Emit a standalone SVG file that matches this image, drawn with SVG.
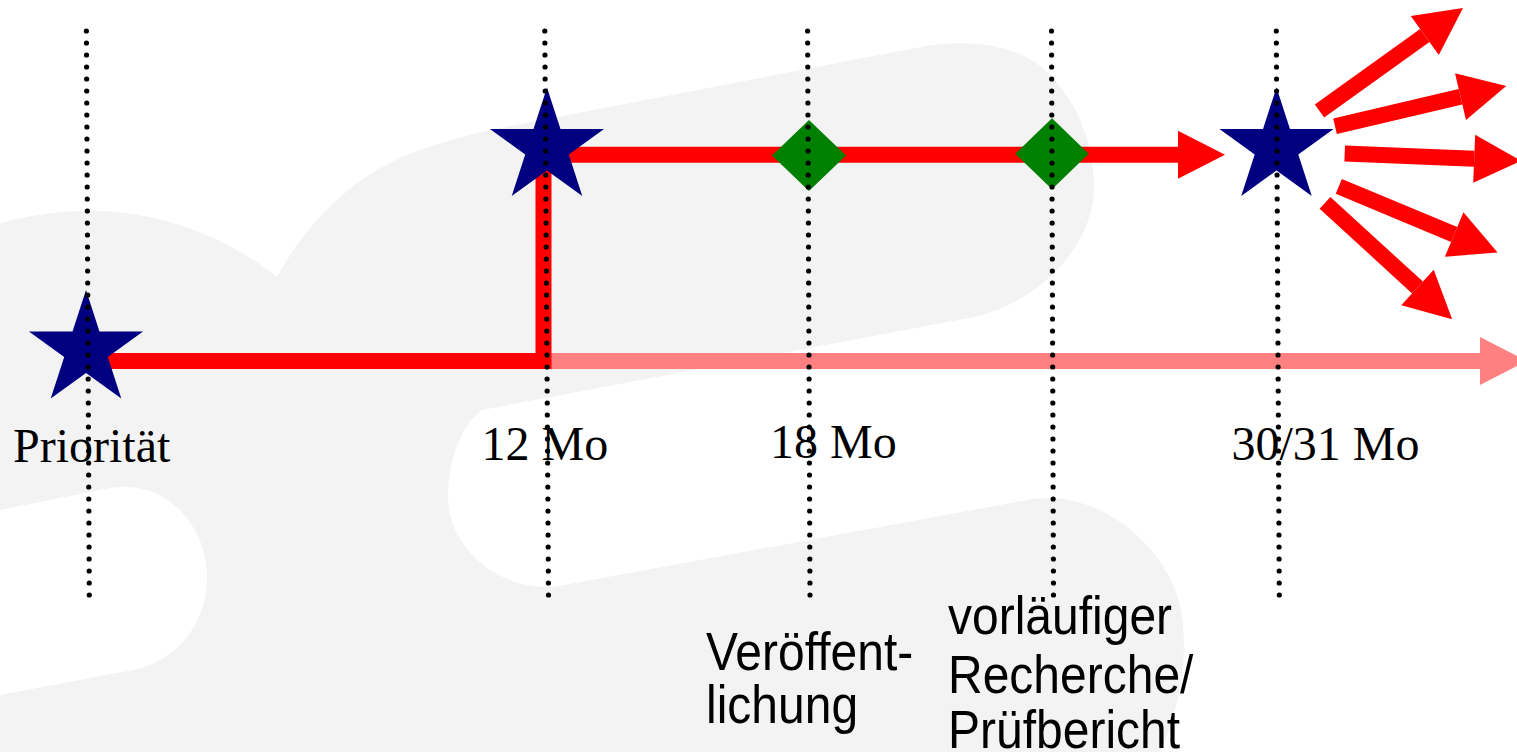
<svg xmlns="http://www.w3.org/2000/svg" width="1517" height="752" viewBox="0 0 1517 752">
  <style>
    .bg { fill: #f3f3f3; }
    .cut { fill: #ffffff; }
    .guide { stroke: #000; stroke-width: 5.2; stroke-dasharray: 0 12; stroke-linecap: round; fill: none; }
    .red { stroke: #ff0000; stroke-width: 16; fill: none; stroke-linejoin: miter; }
    .pink { stroke: #ff8080; stroke-width: 16; fill: none; }
    .star { fill: #000080; }
    .milestone { fill: #008000; }
    .serif { font-family: "Liberation Serif", "Times New Roman", serif; font-size: 48px; fill: #000; }
    .sans { font-family: "Liberation Sans", Arial, sans-serif; font-size: 48px; fill: #000; }
  </style>
  <defs>
    <polygon id="star-shape" points="0,-60 13.47,-18.54 57.06,-18.54 21.8,7.08 35.27,48.54 0,22.92 -35.27,48.54 -21.8,7.08 -57.06,-18.54 -13.47,-18.54"/>
    <marker id="head-red" markerUnits="userSpaceOnUse" markerWidth="47" markerHeight="48" viewBox="0 0 47 48" refX="0" refY="24" orient="auto" overflow="visible">
      <path d="M0,0 L47,24 L0,48 Z" fill="#ff0000"/>
    </marker>
    <marker id="head-pink" markerUnits="userSpaceOnUse" markerWidth="47" markerHeight="48" viewBox="0 0 47 48" refX="0" refY="24" orient="auto" overflow="visible">
      <path d="M0,0 L47,24 L0,48 Z" fill="#ff8080"/>
    </marker>
  </defs>

  <!-- background logo pattern -->
  <g id="backdrop">
    <rect class="bg" x="0" y="0" width="1517" height="752"/>
    <path class="cut" d="M0,0 V223 C35,214 70,210 100,211 C170,214 230,240 277,277 C300,235 340,185 400,158 C430,145 465,135 500,128 L926,46 C960,40 1010,42 1040,66 C1075,95 1094,140 1094,187 C1094,245 1040,302 974,317 L482,410 C460,425 448,465 448,497 C448,545 495,590 553,587 L1033,499 C1100,490 1165,545 1180,605 C1190,650 1180,710 1160,752 H1517 V0 Z"/>
    <path class="cut" d="M0,510 L110,488 C165,478 207,525 207,577 C207,625 175,662 133,670 L0,695 Z"/>
  </g>

  <!-- timelines and arrows -->
  <g id="connectors">
    <line class="pink" x1="551" y1="361" x2="1480" y2="361" marker-end="url(#head-pink)"/>
    <path class="red" d="M86,361 H543.5 V148"/>
    <line class="red" x1="547" y1="154.7" x2="1178" y2="154.7" marker-end="url(#head-red)"/>
    <line class="red" x1="1319.5" y1="111" x2="1424.8" y2="35.5" marker-end="url(#head-red)"/>
    <line class="red" x1="1335" y1="126.2" x2="1460.5" y2="96.7" marker-end="url(#head-red)"/>
    <line class="red" x1="1344.7" y1="153.5" x2="1474.2" y2="158.8" marker-end="url(#head-red)"/>
    <line class="red" x1="1338.8" y1="186.3" x2="1454.2" y2="234.5" marker-end="url(#head-red)"/>
    <line class="red" x1="1325" y1="202.8" x2="1417.5" y2="287.5" marker-end="url(#head-red)"/>
  </g>

  <g id="star-priority"><use href="#star-shape" class="star" x="86" y="350"/></g>
  <g id="star-12mo"><use href="#star-shape" class="star" x="547" y="147.5"/></g>
  <g id="star-30mo"><use href="#star-shape" class="star" x="1276.5" y="147.5"/></g>

  <g id="diamond-publication"><polygon class="milestone" points="809,120 846,155.5 809,191 772,155.5"/></g>
  <g id="diamond-report"><polygon class="milestone" points="1052,118.3 1088.7,153.8 1052,189.3 1015.3,153.8"/></g>

  <!-- labels -->
  <g id="label-priority"><text class="serif" x="13" y="462">Priorität</text></g>
  <g id="label-12mo"><text class="serif" x="481.5" y="460">12 Mo</text></g>
  <g id="label-18mo"><text class="serif" x="770" y="457.5">18 Mo</text></g>
  <g id="label-30mo"><text class="serif" x="1231.5" y="460">30/31 Mo</text></g>
  <g id="label-publication">
    <text class="sans" transform="translate(706,670) scale(1,1.12)">Veröffent-</text>
    <text class="sans" transform="translate(706,723) scale(1,1.12)">lichung</text>
  </g>
  <g id="label-report">
    <text class="sans" transform="translate(948,634) scale(1,1.12)">vorläufiger</text>
    <text class="sans" transform="translate(948,693) scale(1,1.12)">Recherche/</text>
    <text class="sans" transform="translate(948,748) scale(1,1.12)">Prüfbericht</text>
  </g>

  <!-- dotted time markers -->
  <g id="guides">
    <line class="guide" x1="86.4" y1="31" x2="89.3" y2="595"/>
    <line class="guide" x1="544.8" y1="31" x2="548.5" y2="595"/>
    <line class="guide" x1="807.6" y1="31" x2="810" y2="595"/>
    <line class="guide" x1="1051.5" y1="31" x2="1053.5" y2="595"/>
    <line class="guide" x1="1276.3" y1="31" x2="1279.3" y2="595"/>
  </g>
</svg>
